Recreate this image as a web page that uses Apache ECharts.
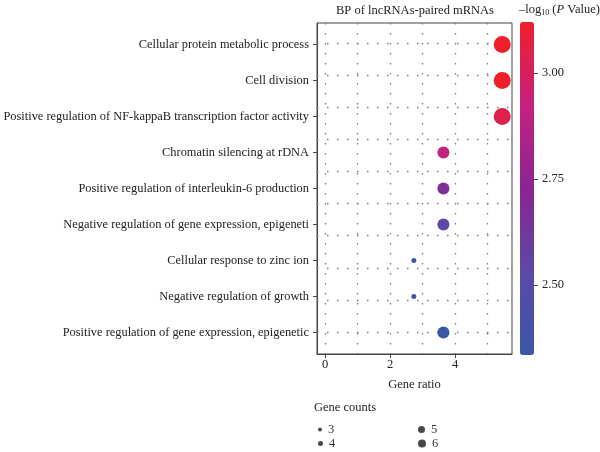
<!DOCTYPE html>
<html>
<head>
<meta charset="utf-8">
<script src="https://cdn.jsdelivr.net/npm/echarts@6/dist/echarts.min.js"></script>
<style>
html,body{margin:0;padding:0;background:#fff;}
#chart{width:600px;height:452px;}
</style>
</head>
<body>
<div id="chart"></div>
<script>
// ---- data ----
var terms = [
  'Cellular protein metabolic process',
  'Cell division',
  'Positive regulation of NF-kappaB transcription factor activity',
  'Chromatin silencing at rDNA',
  'Positive regulation of interleukin-6 production',
  'Negative regulation of gene expression, epigeneti',
  'Cellular response to zinc ion',
  'Negative regulation of growth',
  'Positive regulation of gene expression, epigenetic'
];
var geneRatio = [5.45, 5.45, 5.45, 3.64, 3.64, 3.64, 2.73, 2.73, 3.64];
var geneCounts = [6, 6, 6, 4, 4, 4, 3, 3, 4];
var negLog10P = [3.12, 3.12, 3.04, 2.91, 2.67, 2.54, 2.35, 2.35, 2.34];
var xTicks = [0, 2, 4];
var colorTicks = [2.50, 2.75, 3.00];
var legendCounts = ['3', '4', '5', '6'];

// ---- styles ----
var FONT = "'Liberation Serif', 'DejaVu Serif', serif";
var sizeMap = {3: 5, 4: 12, 5: 15, 6: 17};
var legendSize = {3: 4, 4: 5, 5: 7, 6: 8};
var legendPos = {3: [318, 423], 4: [318, 437], 5: [418, 423], 6: [418, 437]};

var points = terms.map(function (t, i) {
  return [geneRatio[i], i + 1, geneCounts[i], negLog10P[i]];
});

var vLines = [];
for (var k = 0; k <= 5; k++) vLines.push({xAxis: k});
var hLines = [];
for (var j = 0; j < 10; j++) hLines.push({yAxis: 9 - j * 0.895});

var series = [{
  type: 'scatter',
  xAxisIndex: 0, yAxisIndex: 0,
  z: 3,
  data: points,
  symbolSize: function (v) { return sizeMap[v[2]]; },
  itemStyle: {opacity: 1},
  markLine: {
    silent: true, z: 1, symbol: 'none', animation: false,
    label: {show: false},
    lineStyle: {color: '#7a7a7a', width: 1.3, type: [1.5, 8.5]},
    emphasis: {disabled: true},
    data: vLines.concat(hLines)
  }
}];
legendCounts.forEach(function (c) {
  series.push({
    type: 'scatter', name: c, xAxisIndex: 0, yAxisIndex: 0,
    data: [], itemStyle: {color: '#1a1a1a'}
  });
});

var legends = legendCounts.map(function (c) {
  return {
    data: [c], left: legendPos[c][0], top: legendPos[c][1],
    icon: 'circle', itemWidth: legendSize[c], itemHeight: legendSize[c],
    padding: 0, selectedMode: false, itemGap: 0,
    textStyle: {fontSize: 12.5, fontFamily: FONT, color: '#333', padding: [0, 0, 0, 1]}
  };
});

var option = {
  animation: false,
  backgroundColor: '#fff',
  title: [{
    text: '\u2013log{sub|10} ({it|P} Value)',
    left: 519, top: 2, padding: 0,
    textStyle: {
      fontSize: 12.5, fontFamily: FONT, color: '#222', fontWeight: 'normal',
      rich: {
        sub: {fontSize: 8, fontFamily: FONT, color: '#222', padding: [7, 0, 0, 0]},
        it: {fontSize: 12.5, fontFamily: FONT, color: '#222', fontStyle: 'italic'}
      }
    }
  }],
  graphic: [{
    type: 'text', x: 415, y: 11,
    style: {text: 'BP of lncRNAs-paired mRNAs', font: '12.5px ' + FONT, fill: '#222',
      textAlign: 'center', textVerticalAlign: 'middle'}
  }, {
    type: 'text', x: 314, y: 408,
    style: {text: 'Gene counts', font: '12.5px ' + FONT, fill: '#222',
      textAlign: 'left', textVerticalAlign: 'middle'}
  }],
  legend: legends,
  grid: [{
    left: 317, right: 88, top: 23, bottom: 98,
    show: true, borderColor: '#444', borderWidth: 1, containLabel: false
  }, {
    left: 520, width: 14, top: 22, bottom: 97, show: false, containLabel: false
  }],
  xAxis: [{
    type: 'value', gridIndex: 0, min: -0.25, max: 5.75,
    name: 'Gene ratio', nameLocation: 'middle', nameGap: 24,
    nameTextStyle: {fontSize: 12.5, fontFamily: FONT, color: '#222'},
    axisLine: {show: true, onZero: false, lineStyle: {color: '#444'}},
    axisTick: {show: true, length: 4, lineStyle: {color: '#444'}, customValues: xTicks},
    axisLabel: {fontSize: 12.5, fontFamily: FONT, color: '#222', margin: 4, customValues: xTicks,
      formatter: function (v) { return String(v); }},
    splitLine: {show: false}
  }, {
    type: 'value', gridIndex: 1, min: 0, max: 1, show: false
  }],
  yAxis: [{
    type: 'value', gridIndex: 0, min: 0.4, max: 9.6, inverse: true,
    axisLine: {show: true, onZero: false, lineStyle: {color: '#444'}},
    axisTick: {show: true, length: 4, lineStyle: {color: '#444'},
      customValues: terms.map(function (t, i) { return i + 1; })},
    axisLabel: {fontSize: 12.4, fontFamily: FONT, color: '#222', margin: 8,
      customValues: terms.map(function (t, i) { return i + 1; }),
      formatter: function (v) { return terms[Math.round(v) - 1] || ''; }},
    splitLine: {show: false}
  }, {
    type: 'value', gridIndex: 1, min: 2.335, max: 3.12, position: 'right',
    axisLine: {show: false, onZero: false},
    axisTick: {show: true, length: 4, inside: false, lineStyle: {color: '#444'}, customValues: colorTicks},
    axisLabel: {fontSize: 12.5, fontFamily: FONT, color: '#222', margin: 8, customValues: colorTicks,
      formatter: function (v) { return v.toFixed(2); }},
    splitLine: {show: false}
  }],
  visualMap: [{
    type: 'continuous', seriesIndex: 0, dimension: 3,
    min: 2.335, max: 3.12, calculable: false, hoverLink: false,
    orient: 'vertical', left: 520, top: 22, padding: 0,
    itemWidth: 14, itemHeight: 333,
    inRange: {color: ['#3b56a7', '#5b4aa6', '#8a2493', '#c6217f', '#ee1f2b']}
  }],
  series: series
};

var chart = echarts.init(document.getElementById('chart'), null, {renderer: 'canvas'});
chart.setOption(option);
</script>
</body>
</html>
